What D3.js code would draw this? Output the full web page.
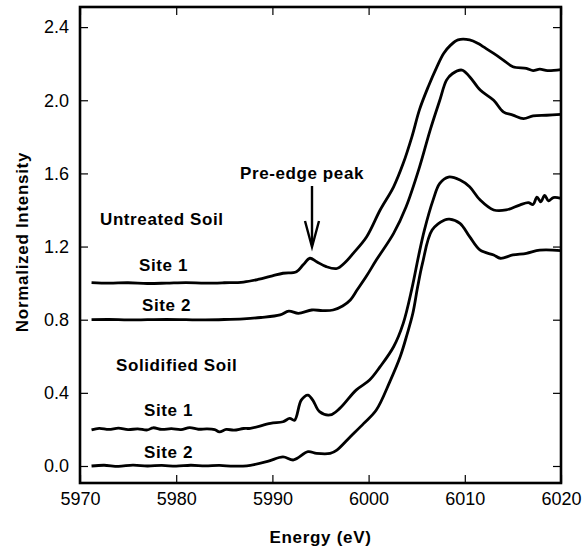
<!DOCTYPE html>
<html>
<head>
<meta charset="utf-8">
<script src="https://cdn.jsdelivr.net/npm/d3@7"></script>
<style>
  body { margin: 0; background: #fff; }
  text { font-family: "Liberation Sans", Arial, sans-serif; fill: #000; }
</style>
</head>
<body>
<svg id="chart" width="583" height="551"></svg>
<script>
// energy (eV), normalized intensity pairs
const untreatedSite1 = [
    [5971.2, 1.003], [5973, 1.0], [5975, 1.002], [5977, 0.998], [5979, 1.0], [5981, 1.003],
    [5983, 1.0], [5985, 1.002], [5987, 1.006], [5988.5, 1.02], [5990, 1.04], [5991.1, 1.054],
    [5992.5, 1.062], [5993.2, 1.1], [5993.9, 1.136], [5994.6, 1.117], [5995.6, 1.09], [5996.7, 1.08],
    [5997.5, 1.11], [5998.4, 1.163], [5999.8, 1.254], [6001.2, 1.4], [6002.6, 1.527], [6003.6, 1.655],
    [6004.5, 1.8], [6005.3, 1.95], [6006.2, 2.074], [6007.1, 2.183], [6007.8, 2.256], [6008.5, 2.3],
    [6009.3, 2.33], [6010.5, 2.33], [6011.4, 2.31], [6011.9, 2.293], [6013, 2.256], [6014, 2.22],
    [6015, 2.183], [6016.4, 2.174], [6017.1, 2.162], [6017.8, 2.17], [6018.6, 2.162], [6020, 2.168]
];

const untreatedSite2 = [
    [5971.2, 0.8], [5973, 0.801], [5975, 0.799], [5977, 0.8], [5979, 0.801], [5981, 0.8],
    [5983, 0.799], [5985, 0.801], [5987, 0.805], [5988.8, 0.812], [5990.8, 0.826], [5991.7, 0.847],
    [5992.7, 0.835], [5994.1, 0.853], [5995.2, 0.85], [5996.3, 0.853], [5997.3, 0.875], [5998.1, 0.908],
    [5998.8, 0.962], [5999.8, 1.04], [6000.8, 1.126], [6002.6, 1.272], [6003.9, 1.418], [6005.3, 1.636],
    [6006.4, 1.837], [6007.4, 2.0], [6008.1, 2.11], [6008.7, 2.145], [6009.7, 2.165], [6010.5, 2.129],
    [6011.6, 2.056], [6013, 2.0], [6014, 1.937], [6015, 1.919], [6016.1, 1.9], [6017.1, 1.914],
    [6018.5, 1.918], [6020, 1.923]
];

const solidifiedSite1 = [
    [5971.2, 0.198], [5972, 0.206], [5973, 0.2], [5974, 0.207], [5975, 0.199], [5976, 0.203],
    [5977, 0.197], [5977.6, 0.209], [5978.5, 0.2], [5979.5, 0.204], [5980.5, 0.199], [5981.4, 0.21],
    [5982.3, 0.201], [5983.2, 0.203], [5984, 0.199], [5984.5, 0.187], [5985.2, 0.2], [5986, 0.196],
    [5987, 0.205], [5987.7, 0.206], [5989.8, 0.233], [5991.1, 0.242], [5991.8, 0.26], [5992.3, 0.25],
    [5993, 0.36], [5993.7, 0.388], [5994.2, 0.36], [5994.9, 0.297], [5996, 0.279], [5997, 0.315],
    [5998.7, 0.415], [6000.1, 0.47], [6001.2, 0.543], [6002.6, 0.652], [6003.6, 0.78], [6004.5, 0.97],
    [6005.2, 1.15], [6005.8, 1.29], [6006.7, 1.454], [6007.4, 1.545], [6008.3, 1.58], [6009.5, 1.564],
    [6010.5, 1.527], [6011.6, 1.454], [6013, 1.4], [6014.3, 1.4], [6015.7, 1.427], [6016.6, 1.44],
    [6017.1, 1.43], [6017.5, 1.47], [6017.9, 1.445], [6018.3, 1.48], [6018.7, 1.45], [6019.2, 1.468],
    [6020, 1.464]
];

const solidifiedSite2 = [
    [5971.2, 0.0], [5972.5, 0.004], [5974, -0.002], [5975.5, 0.005], [5977, 0.0], [5978.5, 0.003],
    [5980, -0.001], [5981.5, 0.004], [5983, 0.001], [5984.5, 0.003], [5986, -0.001], [5987.7, 0.004],
    [5989.5, 0.025], [5991.1, 0.05], [5992.2, 0.033], [5993.7, 0.078], [5994.6, 0.069], [5996, 0.069],
    [5996.7, 0.087], [5998.1, 0.16], [5999.5, 0.233], [6000.8, 0.306], [6002.2, 0.46], [6003.3, 0.6],
    [6004, 0.72], [6004.6, 0.835], [6005.1, 0.98], [6005.6, 1.108], [6006.6, 1.29], [6007.9, 1.345],
    [6008.4, 1.35], [6009.5, 1.327], [6010.5, 1.254], [6011.6, 1.18], [6013, 1.154], [6013.7, 1.136],
    [6015, 1.154], [6016.4, 1.163], [6017.8, 1.18], [6020, 1.178]
];

const series = [untreatedSite1, untreatedSite2, solidifiedSite1, solidifiedSite2];

const xTicks = [5970, 5980, 5990, 6000, 6010, 6020];
const yTicks = [0.0, 0.4, 0.8, 1.2, 1.6, 2.0, 2.4];

const labels = [
    { text: "Untreated Soil", x: 100, y: 225 },
    { text: "Site 1", x: 139, y: 271 },
    { text: "Site 2", x: 142, y: 311 },
    { text: "Solidified Soil", x: 116, y: 371 },
    { text: "Site 1", x: 144, y: 416 },
    { text: "Site 2", x: 144, y: 458 },
    { text: "Pre-edge peak", x: 240, y: 179 }
];

const svg = d3.select("#chart");

const plotLeft = 80, plotRight = 561, plotTop = 7, plotBottom = 483;

let x = d3.scaleLinear().domain([5970, 6020]).range([plotLeft, plotRight]);
let y = d3.scaleLinear().domain([-0.093, 2.51]).range([plotBottom, plotTop]);

// axes, ticks pointing inward
svg.append("g")
    .attr("class", "axis")
    .attr("transform", `translate(${plotLeft},0)`)
    .call(d3.axisLeft(y).tickValues(yTicks).tickFormat(d3.format(".1f")).tickSizeInner(-8).tickSizeOuter(0).tickPadding(11));

svg.append("g")
    .attr("class", "axis")
    .attr("transform", `translate(${plotRight},0)`)
    .call(d3.axisRight(y).tickValues(yTicks).tickFormat("").tickSizeInner(-8).tickSizeOuter(0));

svg.append("g")
    .attr("class", "axis")
    .attr("transform", `translate(0,${plotBottom})`)
    .call(d3.axisBottom(x).tickValues(xTicks).tickFormat(d3.format("d")).tickSizeInner(-8).tickSizeOuter(0).tickPadding(9));

svg.append("g")
    .attr("class", "axis")
    .attr("transform", `translate(0,${plotTop})`)
    .call(d3.axisTop(x).tickValues(xTicks).tickFormat("").tickSizeInner(-8).tickSizeOuter(0));

svg.selectAll(".axis text")
    .style("font-size", "18px")
    .style("font-family", "'Liberation Sans', Arial, sans-serif")
    .attr("fill", "#000");
svg.selectAll(".axis .tick line").attr("stroke", "#000").attr("stroke-width", 1.2);
svg.selectAll(".axis .domain").remove();

// frame
svg.append("rect")
    .attr("x", plotLeft)
    .attr("y", plotTop)
    .attr("width", plotRight - plotLeft)
    .attr("height", plotBottom - plotTop)
    .attr("fill", "none")
    .attr("stroke", "#000")
    .attr("stroke-width", 2.6);

// spectra
let line = d3.line()
    .x(d => x(d[0]))
    .y(d => y(d[1]))
    .curve(d3.curveCatmullRom.alpha(0.5));

for (let i in series) {
    svg.append("path")
        .datum(series[i])
        .attr("d", line)
        .attr("fill", "none")
        .attr("stroke", "#000")
        .attr("stroke-width", 2.8)
        .attr("stroke-linejoin", "round");
}

// annotations
for (let i in labels) {
    svg.append("text")
        .text(labels[i].text)
        .attr("x", labels[i].x)
        .attr("y", labels[i].y)
        .style("font-size", "17px")
        .style("font-weight", "bold")
        .style("letter-spacing", "0.6px");
}

// arrow to the pre-edge peak
svg.append("line")
    .attr("x1", 312).attr("y1", 186)
    .attr("x2", 312).attr("y2", 244)
    .attr("stroke", "#000")
    .attr("stroke-width", 2.4);

svg.append("path")
    .attr("d", "M305,221 L312,247 L319,221")
    .attr("fill", "none")
    .attr("stroke", "#000")
    .attr("stroke-width", 2.4)
    .attr("stroke-linejoin", "miter");

// axis titles
svg.append("text")
    .text("Energy (eV)")
    .attr("x", (plotLeft + plotRight) / 2)
    .attr("y", 543)
    .attr("text-anchor", "middle")
    .style("font-size", "17px")
    .style("font-weight", "bold")
    .style("letter-spacing", "0.7px");

svg.append("text")
    .text("Normalized Intensity")
    .attr("transform", "translate(28,242) rotate(-90)")
    .attr("text-anchor", "middle")
    .style("font-size", "17px")
    .style("font-weight", "bold")
    .style("letter-spacing", "0.7px");
</script>
</body>
</html>
